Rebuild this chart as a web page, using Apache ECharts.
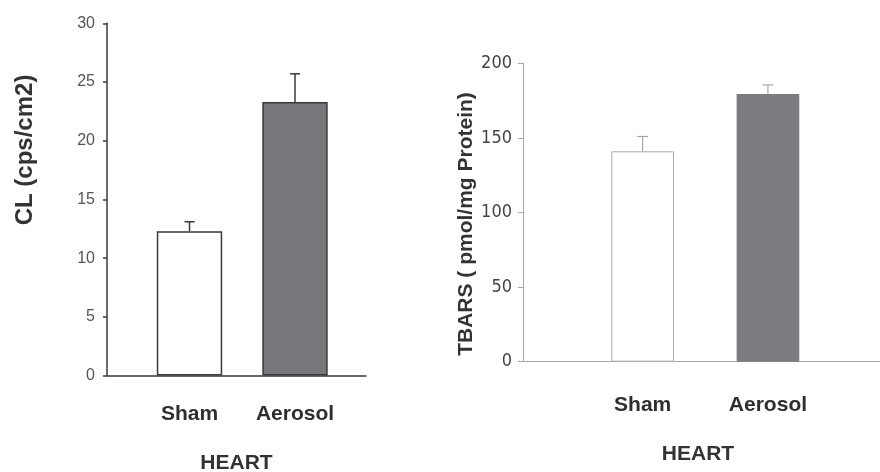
<!DOCTYPE html>
<html><head><meta charset="utf-8">
<script src="https://cdn.jsdelivr.net/npm/echarts@6/dist/echarts.min.js"></script>
<style>html,body{margin:0;padding:0;background:#fff}#c{width:880px;height:472px}</style>
</head><body><div id="c"></div>
<script>
// ---- data ----
const categories = ['Sham', 'Aerosol'];
const clMean = [12.3, 23.3];
const clUpper = [13.1, 25.7];
const clTicks = [0, 5, 10, 15, 20, 25, 30];
const tbarsMean = [141, 179.5];
const tbarsUpper = [151, 185.5];
const tbarsTicks = [0, 50, 100, 150, 200];
const xTitle = 'HEART';
const clName = 'CL (cps/cm2)';
const tbarsName = 'TBARS ( pmol/mg Protein)';

// ---- styles ----
const BOLD = 'Liberation Sans, Arial, sans-serif';
const leftDark = '#3a3a3a';
const rightLine = '#a8a8a8';

function errData(mean, upper) {
  return categories.map((c, i) => [i, mean[i], upper[i]]);
}
function errSeries(xi, yi, mean, upper, color, width, capHalf) {
  return {
    type: 'custom', xAxisIndex: xi, yAxisIndex: yi, z: 5,
    data: errData(mean, upper),
    renderItem: function (params, api) {
      const base = api.coord([api.value(0), api.value(1)]);
      const top = api.coord([api.value(0), api.value(2)]);
      const st = { stroke: color, lineWidth: width };
      return {
        type: 'group',
        children: [
          { type: 'line', shape: { x1: base[0], y1: base[1], x2: top[0], y2: top[1] }, style: st },
          { type: 'line', shape: { x1: top[0] - capHalf, y1: top[1], x2: top[0] + capHalf, y2: top[1] }, style: st }
        ]
      };
    }
  };
}

const clMin = clTicks[0], clMax = clTicks[clTicks.length - 1], clStep = clTicks[1] - clTicks[0];
const tbMin = tbarsTicks[0], tbMax = tbarsTicks[tbarsTicks.length - 1], tbStep = tbarsTicks[1] - tbarsTicks[0];

const option = {
  animation: false,
  backgroundColor: '#fff',
  grid: [
    { left: 107, top: 23.3, width: 259, height: 352.3, outerBoundsMode: 'none', containLabel: false },
    { left: 136.75, top: 23.3, width: 211, height: 352.3, outerBoundsMode: 'none', containLabel: false },
    { left: 523, top: 63.3, width: 357, height: 298.4, outerBoundsMode: 'none', containLabel: false },
    { left: 580, top: 63.3, width: 250.6, height: 298.4, outerBoundsMode: 'none', containLabel: false }
  ],
  xAxis: [
    { gridIndex: 0, type: 'category', data: [''],
      axisLine: { lineStyle: { color: leftDark, width: 1.5 } },
      axisTick: { show: false }, axisLabel: { show: false },
      name: xTitle, nameLocation: 'middle', nameGap: 77,
      nameTextStyle: { fontFamily: BOLD, fontWeight: 'bold', fontSize: 21, color: '#333' } },
    { gridIndex: 1, type: 'category', data: categories,
      axisLine: { show: false }, axisTick: { show: false },
      axisLabel: { fontFamily: BOLD, fontWeight: 'bold', fontSize: 21, color: '#2e2e2e', margin: 28 } },
    { gridIndex: 2, type: 'category', data: [''],
      axisLine: { lineStyle: { color: rightLine, width: 1 } },
      axisTick: { show: false }, axisLabel: { show: false },
      name: xTitle, nameLocation: 'middle', nameGap: 82,
      nameTextStyle: { fontFamily: BOLD, fontWeight: 'bold', fontSize: 21, color: '#333', padding: [0, 7, 0, 0] } },
    { gridIndex: 3, type: 'category', data: categories,
      axisLine: { show: false }, axisTick: { show: false },
      axisLabel: { fontFamily: BOLD, fontWeight: 'bold', fontSize: 21, color: '#2e2e2e', margin: 33 } }
  ],
  yAxis: [
    { gridIndex: 0, type: 'value', min: clMin, max: clMax, interval: clStep,
      axisLine: { show: true, lineStyle: { color: leftDark, width: 1.5 } },
      axisTick: { show: true, length: 4, lineStyle: { color: leftDark, width: 1.5 } },
      axisLabel: { fontFamily: 'Liberation Sans, Arial, sans-serif', fontSize: 16, color: '#555', margin: 12 },
      splitLine: { show: false },
      name: clName, nameLocation: 'middle', nameGap: 70,
      nameTextStyle: { fontFamily: BOLD, fontWeight: 'bold', fontSize: 24, color: '#333', padding: [0, 0, 0, 99] } },
    { gridIndex: 1, type: 'value', min: clMin, max: clMax, show: false, splitLine: { show: false } },
    { gridIndex: 2, type: 'value', min: tbMin, max: tbMax, interval: tbStep,
      axisLine: { show: true, lineStyle: { color: rightLine, width: 1 } },
      axisTick: { show: true, length: 5, lineStyle: { color: rightLine, width: 1 } },
      axisLabel: { fontFamily: 'DejaVu Sans Condensed, Liberation Sans Narrow, sans-serif', fontSize: 18, color: '#444', margin: 11 },
      splitLine: { show: false },
      name: tbarsName, nameLocation: 'middle', nameGap: 31.5,
      nameTextStyle: { fontFamily: BOLD, fontWeight: 'bold', fontSize: 21, color: '#333', padding: [0, 23, 0, 0] } },
    { gridIndex: 3, type: 'value', min: tbMin, max: tbMax, show: false, splitLine: { show: false } }
  ],
  series: [
    { type: 'bar', xAxisIndex: 1, yAxisIndex: 1, barWidth: '62%',
      data: clMean.map((v, i) => ({ value: v, itemStyle: {
        color: i === 0 ? '#ffffff' : '#77787c', borderColor: leftDark, borderWidth: 1.5 } })) },
    errSeries(1, 1, clMean, clUpper, leftDark, 1.5, 5),
    { type: 'bar', xAxisIndex: 3, yAxisIndex: 3, barWidth: '50%',
      data: tbarsMean.map((v, i) => ({ value: v, itemStyle: i === 0
        ? { color: '#ffffff', borderColor: '#aaaaaa', borderWidth: 1 }
        : { color: '#7b7c80', borderWidth: 0 } })) },
    errSeries(3, 3, tbarsMean, tbarsUpper, '#9a9a9a', 1, 5.5)
  ]
};
echarts.init(document.getElementById('c'), null, { renderer: 'canvas' }).setOption(option);
</script>
</body></html>
